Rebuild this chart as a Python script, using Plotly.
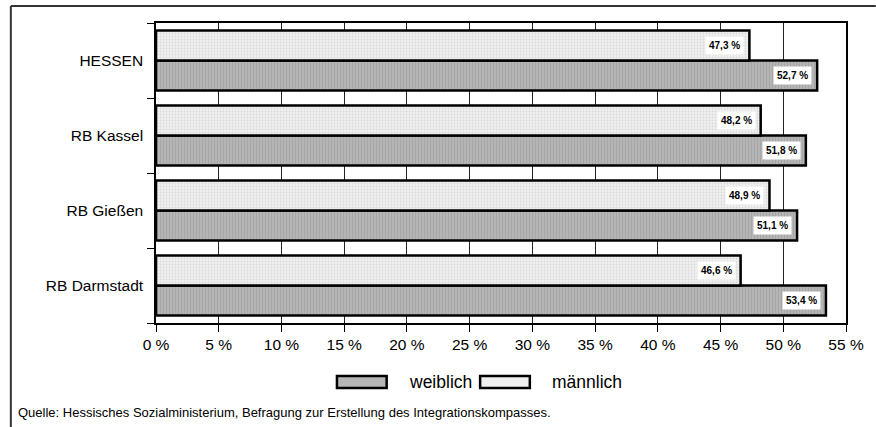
import plotly.graph_objects as go

# data
regionen = ["HESSEN", "RB Kassel", "RB Gießen", "RB Darmstadt"]
weiblich = [52.7, 51.8, 51.1, 53.4]
maennlich = [47.3, 48.2, 48.9, 46.6]
x_ticks = list(range(0, 56, 5))
quelle = "Quelle: Hessisches Sozialministerium, Befragung zur Erstellung des Integrationskompasses."

FONT = "Liberation Sans, Arial, sans-serif"
W, H = 876, 427
L, R, T, B = 156, 26, 23, 104


def px_x(p):
    return (p - L) / (W - L - R)


def px_y(p):
    return (H - B - p) / (H - T - B)


def fmt(v):
    return f"{v:.1f}".replace(".", ",") + " %"


# plot bottom-up so HESSEN ends on top; first trace sits lower in each group
order = regionen[::-1]
w_vals = weiblich[::-1]
m_vals = maennlich[::-1]

fig = go.Figure()
fig.add_trace(go.Bar(
    y=order, x=w_vals, orientation="h", name="weiblich",
    marker=dict(color="#b5b5b5", line=dict(color="#000000", width=2.5),
                pattern=dict(shape="|", size=3, solidity=0.3, fgcolor="#959595")),
    showlegend=False,
))
fig.add_trace(go.Bar(
    y=order, x=m_vals, orientation="h", name="männlich",
    marker=dict(color="#efefef", line=dict(color="#000000", width=2.5),
                pattern=dict(shape=".", size=3, solidity=0.3, fgcolor="#c4c4c4")),
    showlegend=False,
))

# value labels in white boxes at the bar ends
for reg, v in zip(order, w_vals):
    fig.add_annotation(x=v, y=reg, xref="x", yref="y", text=f"<b>{fmt(v)}</b>",
                       showarrow=False, xanchor="right", xshift=-5, yshift=-15,
                       bgcolor="white", borderpad=3,
                       font=dict(family=FONT, size=10, color="black"))
for reg, v in zip(order, m_vals):
    fig.add_annotation(x=v, y=reg, xref="x", yref="y", text=f"<b>{fmt(v)}</b>",
                       showarrow=False, xanchor="right", xshift=-5, yshift=15,
                       bgcolor="white", borderpad=3,
                       font=dict(family=FONT, size=10, color="black"))

# hand-made legend
legend_items = [("weiblich", "#b5b5b5", 338, 408), ("männlich", "#efefef", 482, 552)]
for name, col, x0, tx in legend_items:
    fig.add_shape(type="rect", xref="paper", yref="paper",
                  x0=px_x(x0), x1=px_x(x0 + 50), y0=px_y(376), y1=px_y(388),
                  fillcolor=col, line=dict(color="black", width=2.5))
    fig.add_annotation(x=px_x(tx), y=px_y(382), xref="paper", yref="paper",
                       text=name, showarrow=False, xanchor="left", yanchor="middle",
                       font=dict(family=FONT, size=17.5, color="black"))

fig.add_annotation(x=px_x(15), y=px_y(412), xref="paper", yref="paper",
                   text=quelle, showarrow=False, xanchor="left", yanchor="middle",
                   font=dict(family=FONT, size=13, color="black"))

# outer frame (top and left edges visible)
fig.add_shape(type="line", xref="paper", yref="paper", x0=px_x(10), x1=px_x(880),
              y0=px_y(6), y1=px_y(6), line=dict(color="#333333", width=2))
fig.add_shape(type="line", xref="paper", yref="paper", x0=px_x(10), x1=px_x(10),
              y0=px_y(6), y1=px_y(430), line=dict(color="#333333", width=2))

fig.update_layout(
    width=W, height=H,
    margin=dict(l=L, r=R, t=T, b=B),
    paper_bgcolor="white", plot_bgcolor="white",
    barmode="group", bargap=0.2, bargroupgap=0,
    font=dict(family=FONT, color="black"),
)
fig.update_xaxes(
    range=[0, 55], tickvals=x_ticks, ticktext=[f"{t} %" for t in x_ticks],
    showgrid=True, gridcolor="#222222", gridwidth=1,
    showline=True, linecolor="black", linewidth=1.5, mirror=True,
    ticks="outside", ticklen=7, tickcolor="black",
    tickfont=dict(family=FONT, size=15.5, color="black"),
    zeroline=False, fixedrange=True,
)
fig.update_yaxes(
    type="category", categoryorder="array", categoryarray=order,
    tickson="boundaries", ticks="outside", ticklen=7, tickcolor="black",
    showline=True, linecolor="black", linewidth=1.5, mirror=True,
    showgrid=False, ticklabelstandoff=8,
    tickfont=dict(family=FONT, size=15.5, color="black"),
    fixedrange=True,
)

fig.write_html("out.html", config={"displayModeBar": False},
               post_script="document.body.style.margin = '0';")
